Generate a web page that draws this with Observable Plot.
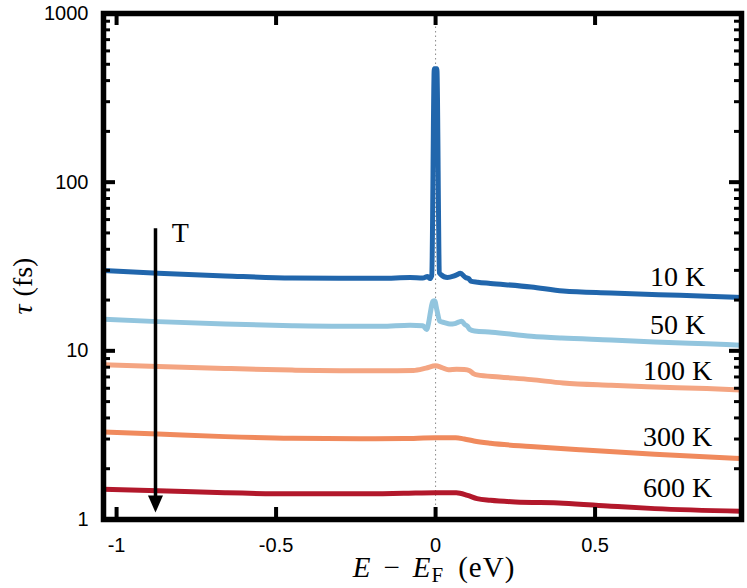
<!DOCTYPE html>
<html><head><meta charset="utf-8">
<script src="https://cdn.jsdelivr.net/npm/d3@7"></script>
<script src="https://cdn.jsdelivr.net/npm/@observablehq/plot@0.6"></script>
<style>body{margin:0;background:#fff} svg{display:block}</style>
</head><body><div id="chart"></div>
<script>
// ---- data ----
const xTicks = [-1, -0.5, 0, 0.5];
const xTickLabels = ["-1", "-0.5", "0", "0.5"];
const yMajor = [1, 10, 100, 1000];
const yMinor = [2,3,4,5,6,7,8,9,20,30,40,50,60,70,80,90,200,300,400,500,600,700,800,900];
const series = ["10 K", "50 K", "100 K", "300 K", "600 K"];
const colors = ["#2166ac", "#92c5de", "#f4a582", "#f08a5d", "#b2182b"];

const e10   = [-1.041,-0.87,-0.66,-0.45,-0.3,-0.17,-0.08,-0.04,-0.025,-0.018,-0.012,-0.004,0.004,0.012,0.016,0.037,0.056,0.066,0.078,0.094,0.104,0.11,0.132,0.172,0.3,0.4,0.55,0.7,0.85,0.959];
const tau10 = [29.9,28.8,27.8,27.0,26.9,26.9,27.2,27.0,27.6,26.8,28,470,470,29,28.4,27.2,27.7,28.2,28.8,27.2,26.8,25.9,25.5,25.1,23.9,22.6,22.0,21.5,21.1,20.7];

const e50   = [-1.041,-0.87,-0.66,-0.45,-0.3,-0.17,-0.08,-0.04,-0.028,-0.022,-0.016,-0.009,-0.003,0.004,0.013,0.028,0.045,0.06,0.072,0.082,0.092,0.1,0.107,0.122,0.176,0.3,0.395,0.55,0.687,0.85,0.959];
const tau50 = [15.4,14.9,14.4,14.1,14.0,14.0,14.2,14.1,13.4,14.6,17.0,19.6,19.8,17.5,15.0,14.7,14.4,14.5,14.8,15.0,14.3,14.0,13.4,13.1,12.9,12.2,11.9,11.6,11.3,11.0,10.8];

const e100   = [-1.041,-0.87,-0.66,-0.45,-0.3,-0.17,-0.07,-0.03,0.0,0.02,0.04,0.066,0.09,0.107,0.12,0.13,0.2,0.3,0.4,0.55,0.687,0.85,0.959];
const tau100 = [8.26,8.07,7.86,7.69,7.62,7.61,7.65,7.9,8.15,7.95,7.72,7.78,7.75,7.62,7.3,7.2,7.0,6.75,6.45,6.25,6.11,5.97,5.85];

const e300   = [-1.041,-0.87,-0.66,-0.45,-0.234,-0.1,0.0,0.063,0.09,0.12,0.172,0.298,0.455,0.687,0.959];
const tau300 = [3.30,3.21,3.10,3.03,3.01,3.02,3.05,3.05,3.0,2.92,2.83,2.71,2.59,2.44,2.30];

const e600   = [-1.041,-0.87,-0.66,-0.45,-0.234,-0.1,0.0,0.065,0.1,0.13,0.172,0.25,0.4,0.55,0.687,0.959];
const tau600 = [1.51,1.48,1.44,1.42,1.42,1.43,1.44,1.44,1.39,1.33,1.30,1.27,1.25,1.20,1.16,1.12];

const labelTau = [27.3, 14.3, 7.64, 3.08, 1.54];
const labelE = 0.759;
const arrowE = -0.878, arrowTop = 53, arrowTip = 1.10;
const arrowText = "T", arrowTextE = -0.8, arrowTextTau = 49.6;

// ---- build ----
const xs = [e10, e50, e100, e300, e600];
const ys = [tau10, tau50, tau100, tau300, tau600];
const rows = series.flatMap((s, i) => xs[i].map((e, j) => ({series: s, e, tau: ys[i][j]})));
const labels = series.map((s, i) => ({series: s, e: labelE, tau: labelTau[i]}));

const arrowHead = {draw(ctx) { ctx.moveTo(-7.5, -17); ctx.lineTo(7.5, -17); ctx.lineTo(0, 0); ctx.closePath(); }};

const sans = "Liberation Sans, Arial, Helvetica, sans-serif";
const serif = "Liberation Serif, Times New Roman, serif";

const W = 747, H = 588, mL = 103, mR = 6, mT = 13, mB = 69;
const fw = W - mL - mR, fh = H - mT - mB;
const T = 12, t = 7; // major / minor inward tick length (px from frame line centre)

const chart = Plot.plot({
  width: W, height: H,
  marginLeft: mL, marginRight: mR, marginTop: mT, marginBottom: mB,
  x: {domain: [-1.041, 0.959]},
  y: {type: "log", domain: [1, 1000]},
  color: {domain: series, range: colors},
  marks: [
    Plot.ruleX([0], {stroke: "#8a8a8a", strokeWidth: 1, strokeDasharray: "1.5,3"}),
    Plot.line(rows, {x: "e", y: "tau", z: "series", stroke: "series", strokeWidth: 5, curve: "monotone-x", clip: true, strokeLinejoin: "round"}),
    Plot.text(labels, {x: "e", y: "tau", text: "series", textAnchor: "middle", fontFamily: serif, fontSize: 28, fill: "black"}),
    Plot.ruleX([arrowE], {y1: arrowTop, y2: arrowTip * 1.12, stroke: "black", strokeWidth: 3.5}),
    Plot.dot([{e: arrowE, tau: arrowTip}], {x: "e", y: "tau", symbol: arrowHead, fill: "black", stroke: "none", r: 6}),
    Plot.text([{e: arrowTextE, tau: arrowTextTau, t: arrowText}], {x: "e", y: "tau", text: "t", fontFamily: serif, fontSize: 28, fill: "black"}),
    // inward ticks on all four sides
    Plot.ruleX(xTicks, {x: d => d, insetTop: fh - T, stroke: "black", strokeWidth: 4}),
    Plot.ruleX(xTicks, {x: d => d, insetBottom: fh - T, stroke: "black", strokeWidth: 4}),
    Plot.ruleY(yMajor, {y: d => d, insetRight: fw - T, stroke: "black", strokeWidth: 4}),
    Plot.ruleY(yMinor, {y: d => d, insetRight: fw - t, stroke: "black", strokeWidth: 3}),
    Plot.ruleY(yMajor, {y: d => d, insetLeft: fw - T, stroke: "black", strokeWidth: 4}),
    Plot.ruleY(yMinor, {y: d => d, insetLeft: fw - t, stroke: "black", strokeWidth: 3}),
    Plot.frame({stroke: "black", strokeWidth: 5.5}),
    // tick labels
    Plot.axisX({ticks: xTicks, tickFormat: (d, i) => xTickLabels[i], tickSize: 0, tickPadding: 18, fontSize: 20, fontFamily: sans, label: null}),
    Plot.axisY({ticks: yMajor, tickFormat: d => String(d), tickSize: 0, tickPadding: 15, fontSize: 20, fontFamily: sans, label: null})
  ]
});

// axis titles with mixed styles
const svg = d3.select(chart);
const xl = svg.append("text")
  .attr("x", 434).attr("y", 577)
  .attr("text-anchor", "middle")
  .attr("font-family", serif).attr("font-size", 29).attr("fill", "black")
  .attr("letter-spacing", 1);
xl.append("tspan").attr("font-style", "italic").text("E");
xl.append("tspan").attr("dx", 12).text("−");
xl.append("tspan").attr("dx", 12).attr("font-style", "italic").text("E");
xl.append("tspan").attr("font-size", 21).attr("dy", 5).text("F");
xl.append("tspan").attr("dy", -5).attr("dx", 14).text("(eV)");

const yl = svg.append("text")
  .attr("transform", "translate(32,286) rotate(-90)")
  .attr("text-anchor", "middle")
  .attr("font-family", serif).attr("font-size", 28).attr("fill", "black");
yl.append("tspan").attr("font-style", "italic").text("τ");
yl.append("tspan").attr("dx", 8).text("(fs)");

document.getElementById("chart").appendChild(chart);
</script>
</body></html>
